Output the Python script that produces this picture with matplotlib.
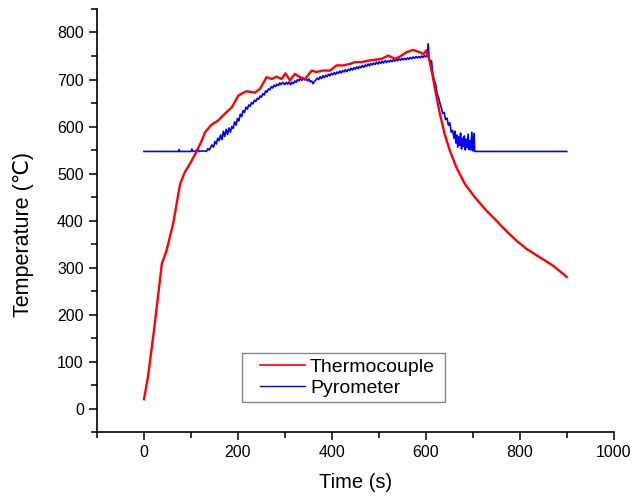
import matplotlib
matplotlib.use("Agg")
import numpy as np
import matplotlib.pyplot as plt
from matplotlib.ticker import MultipleLocator
from matplotlib.lines import Line2D
from matplotlib.legend_handler import HandlerLine2D

plt.rcParams['font.family'] = ['Liberation Sans', 'DejaVu Sans']

# Thermocouple (red)
tc_time = [0, 9, 23, 38, 48, 62, 77, 87, 98, 111, 123, 130, 144, 158, 172, 187, 201, 218,
           236, 247, 261, 272, 282, 293, 301, 311, 321, 332, 343, 357, 367, 381, 396, 410,
           424, 438, 449, 463, 477, 491, 506, 520, 534, 545, 559, 573, 587, 595, 601, 608,
           615, 623, 630, 640, 651, 665, 683, 704, 729, 750, 764, 793, 814, 836, 871, 900]
tc_temp = [20, 70, 180, 308, 336, 393, 478, 503, 521, 545, 570, 588, 604, 613, 627, 641, 666, 675,
           672, 680, 705, 701, 706, 701, 713, 698, 712, 705, 701, 719, 716, 719, 719, 730,
           730, 733, 737, 737, 740, 742, 744, 751, 744, 749, 758, 763, 758, 754, 762, 740,
           705, 662, 627, 584, 549, 513, 478, 450, 421, 400, 385, 357, 340, 326, 304, 280]

# Pyrometer (blue)
py_time = [0, 74, 75, 76, 100, 102, 104, 110, 115, 117, 125,
           130, 133, 136, 139, 142, 145, 148, 151, 154, 157, 160, 163, 166, 169, 172, 175, 178,
           181, 184, 187, 190, 193, 196, 199, 202, 205, 208, 211, 214, 217, 220, 223, 226, 229,
           232, 235, 238, 241, 244, 247, 250, 253, 256, 259, 262, 265, 268, 271, 274, 277, 280,
           283, 286, 289, 292, 295, 298,
           300, 303, 306, 309, 312, 315, 318, 321, 324, 327, 330, 333, 336, 339, 342, 345, 348,
           351, 354, 357, 360, 363, 366, 369, 372, 375, 378, 381, 384, 387, 390, 393, 396, 399,
           402, 405, 408, 411, 414, 417, 420, 423, 426, 429, 432, 435, 438, 441, 444, 447, 450,
           453, 456, 459, 462, 465, 468, 471, 474, 477, 480, 483, 486, 489, 492, 495, 498, 501,
           504, 507, 510, 513, 516, 519, 522, 525, 528, 531, 534, 537, 540, 543, 546, 549, 552,
           555, 558, 561, 564, 567, 570, 573, 576, 579, 582, 585, 588, 591, 594, 597, 600, 603,
           605,
           607, 609, 612, 615, 618, 621, 624, 627, 630, 633, 636, 639, 642, 645, 648, 651, 654,
           657, 660, 662, 664, 666, 668, 670, 672, 674, 676, 678, 680, 682, 684, 686, 688, 690,
           692, 694, 696, 698, 700, 702, 703, 704, 900]
py_temp = [547, 547, 551, 547, 547, 552, 547, 548, 553, 547, 548,
           548, 547, 553, 550, 556, 561, 556, 568, 563, 575, 570, 582, 572, 590, 579, 594, 583,
           597, 588, 600, 596, 610, 603, 617, 612, 626, 621, 634, 630, 641, 637, 646, 643, 651,
           648, 656, 653, 660, 658, 665, 662, 670, 667, 676, 673, 680, 678, 685, 682, 688, 685,
           690, 687, 693, 689, 694, 691,
           689, 694, 690, 695, 689, 694, 691, 697, 694, 700, 697, 703, 698, 703, 699, 702, 697,
           701, 695, 697, 691, 696, 699, 703, 700, 706, 702, 708, 704, 709, 706, 711, 708, 713,
           710, 715, 711, 716, 713, 718, 714, 719, 716, 721, 717, 722, 719, 724, 720, 725, 722,
           727, 723, 728, 725, 730, 726, 731, 728, 733, 729, 734, 731, 735, 732, 737, 733, 738,
           734, 739, 735, 740, 736, 740, 737, 741, 738, 742, 739, 743, 740, 744, 741, 745, 742,
           745, 742, 746, 743, 747, 744, 748, 745, 749, 746, 749, 746, 750, 747, 751, 748, 752,
           776,
           745, 735, 740, 712, 698, 690, 670, 662, 650, 640, 628, 630, 615, 618, 603, 608, 588,
           592, 575, 590, 565, 582, 556, 578, 560, 586, 552, 575, 558, 580, 550, 573, 555, 584,
           551, 570, 550, 588, 548, 560, 585, 547, 547]


class LeadHandler(HandlerLine2D):
    """Line handle with an empty lead before the line starts."""
    def __init__(self, lead=9.4, **kw):
        super().__init__(**kw)
        self.lead = lead

    def create_artists(self, legend, orig_handle, xdescent, ydescent, width, height,
                       fontsize, trans):
        y = (height - ydescent) / 2.0
        line = Line2D([-xdescent + self.lead, width - xdescent], [y, y])
        self.update_prop(line, orig_handle, legend)
        line.set_transform(trans)
        return [line]


fig = plt.figure(figsize=(6.34, 4.99), dpi=100)
ax = fig.add_axes([0.153, 0.134, 0.815, 0.848])

ax.plot(tc_time, tc_temp, color='#ff0000', lw=1.7, zorder=3)
ax.plot(py_time, py_temp, color='#0000ff', lw=1.2, zorder=2)

ax.set_xlim(-100, 1000)
ax.set_ylim(-50, 850)
ax.xaxis.set_major_locator(MultipleLocator(200))
ax.xaxis.set_minor_locator(MultipleLocator(100))
ax.yaxis.set_minor_locator(MultipleLocator(50))
ax.set_yticks(range(0, 900, 100))

for s in ['top', 'right']:
    ax.spines[s].set_visible(False)
for s in ['left', 'bottom']:
    ax.spines[s].set_linewidth(1.2)
ax.tick_params(which='major', direction='out', length=6, width=1.1, labelsize=11.5, colors='black')
ax.tick_params(which='minor', direction='out', length=4, width=1.1)

ax.set_xlabel('Time (s)', fontsize=14.5, labelpad=9)
ax.set_ylabel('Temperature (℃)', fontsize=15.5)
ax.yaxis.set_label_coords(-0.122, 0.466)

h1 = Line2D([], [], color='#ff0000', lw=1.2)
h2 = Line2D([], [], color='#0000ff', lw=1.0)
leg = ax.legend([h1, h2], ['Thermocouple', 'Pyrometer'], loc='lower left',
                bbox_to_anchor=(0.281, 0.071, 0.393, 0.118), mode='expand',
                borderaxespad=0, fontsize=14,
                frameon=True, fancybox=False, edgecolor='#888888', framealpha=1,
                handlelength=2.98, borderpad=0.25, labelspacing=0.2, handletextpad=0.26,
                handler_map={h1: LeadHandler(), h2: LeadHandler()})
leg.get_frame().set_linewidth(1.0)

fig.savefig('out.png', dpi=100)
